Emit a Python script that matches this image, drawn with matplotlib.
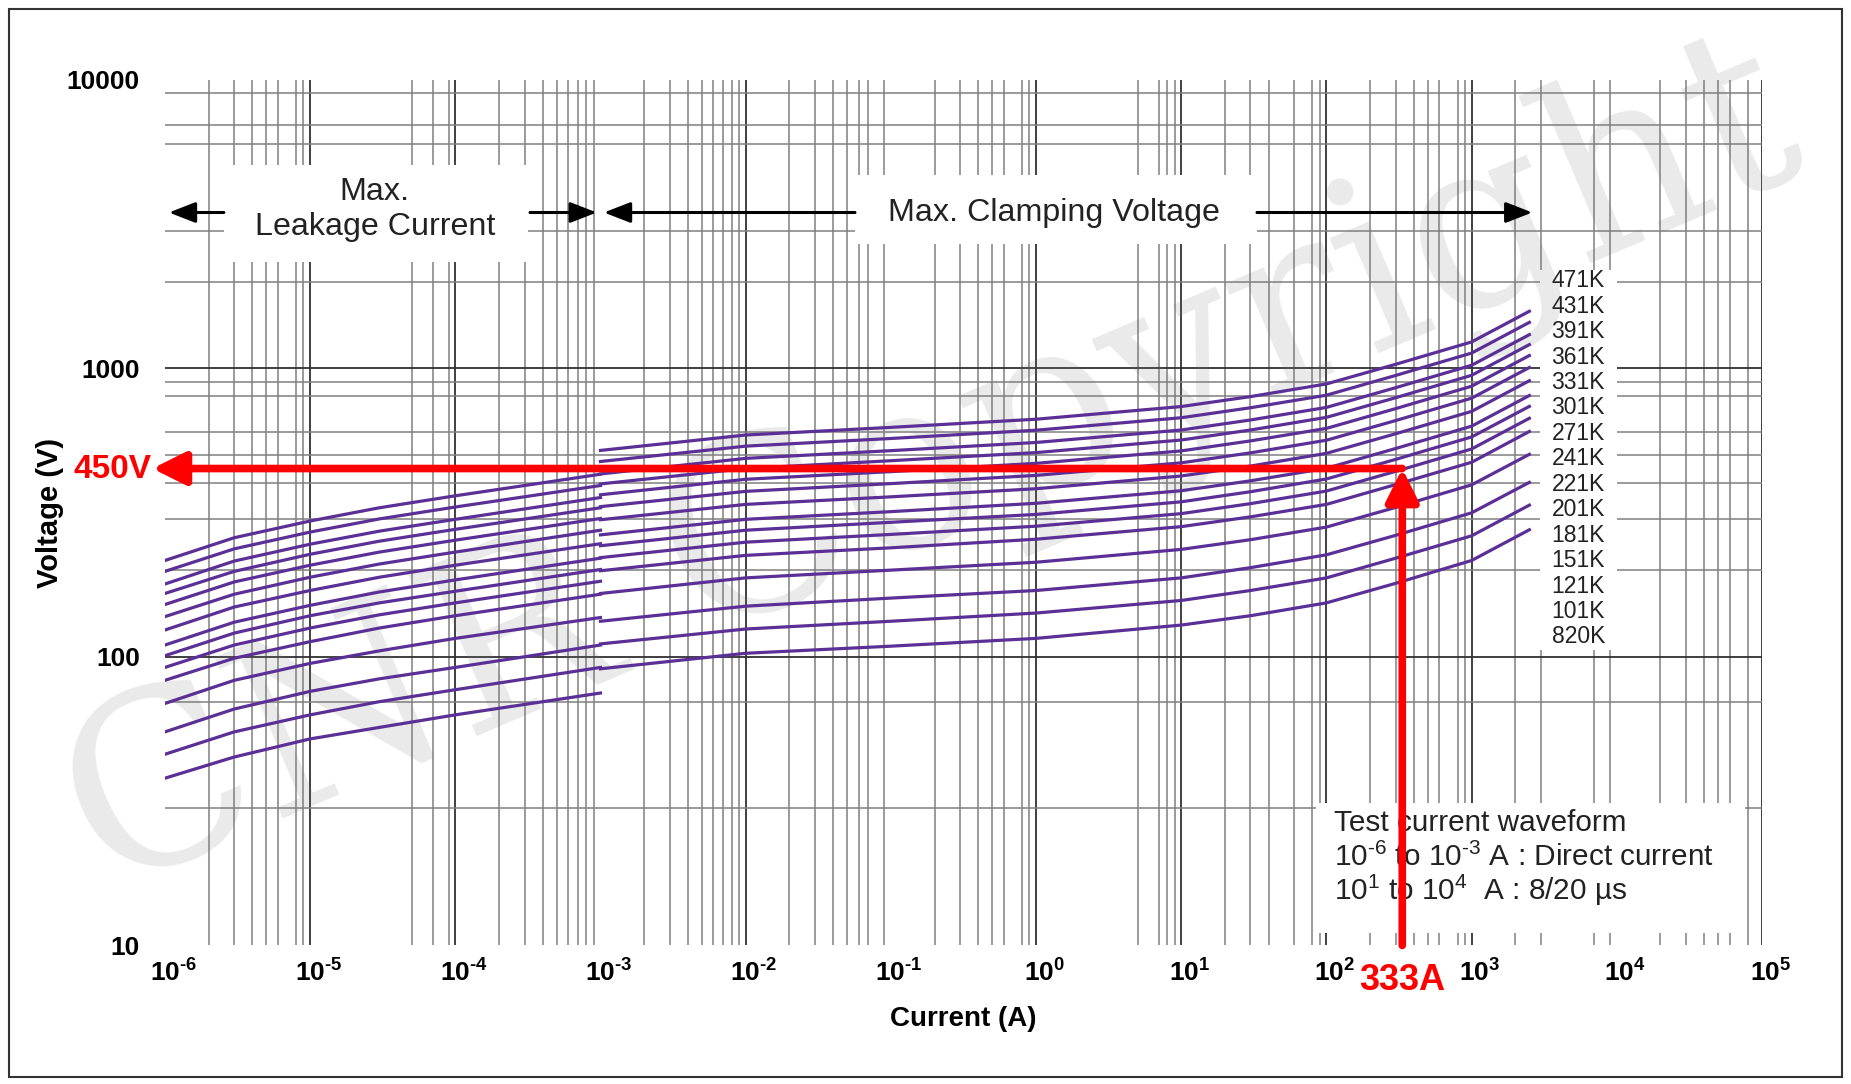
import matplotlib.pyplot as plt
import matplotlib.transforms as mtransforms
from matplotlib.patches import Rectangle

plt.rcParams['font.family'] = ['Liberation Sans', 'DejaVu Sans']
plt.rcParams['mathtext.default'] = 'regular'

# varistor ratings, top curve first
RATINGS = ['471K', '431K', '391K', '361K', '331K', '301K', '271K', '241K',
           '221K', '201K', '181K', '151K', '121K', '101K', '820K']

# leakage region (DC), current in A
LEAK_I = [1e-6, 3e-6, 1e-5, 3e-5, 1e-4, 1e-3]
LEAK_V = [
    [216, 259, 296, 329, 362, 430],
    [198, 237, 271, 301, 331, 393],
    [179, 215, 246, 273, 300, 357],
    [166, 198, 227, 252, 277, 329],
    [152, 182, 208, 231, 254, 302],
    [138, 165, 189, 210, 231, 275],
    [124, 149, 170, 189, 208, 247],
    [110, 132, 151, 168, 185, 220],
    [101, 121, 139, 154, 169, 201],
    [92, 110, 126, 140, 154, 183],
    [83, 99, 113, 126, 139, 165],
    [69, 83, 95, 105, 116, 137],
    [55, 66, 76, 84, 92, 110],
    [46, 55, 63, 70, 77, 92],
    [38, 45, 52, 57, 63, 75],
]

# clamping region (8/20 us), current in A
CLAMP_I = [1e-3, 1e-2, 1e-1, 1, 10, 30, 100, 300, 1000, 2500]
CLAMP_V = [
    [520, 588, 625, 667, 738, 799, 884, 1034, 1236, 1579],
    [476, 538, 572, 611, 675, 731, 808, 946, 1131, 1445],
    [431, 488, 519, 554, 612, 663, 733, 858, 1026, 1310],
    [398, 450, 479, 511, 565, 612, 677, 792, 947, 1210],
    [365, 413, 439, 469, 518, 561, 620, 726, 868, 1109],
    [332, 375, 399, 426, 471, 510, 564, 660, 789, 1008],
    [299, 338, 359, 383, 424, 459, 508, 594, 710, 907],
    [265, 300, 319, 341, 377, 408, 451, 528, 631, 806],
    [243, 275, 293, 312, 345, 374, 414, 484, 579, 739],
    [221, 250, 266, 284, 314, 340, 376, 440, 526, 672],
    [199, 225, 239, 256, 283, 306, 338, 396, 473, 605],
    [166, 188, 200, 213, 236, 255, 282, 330, 395, 504],
    [133, 150, 160, 170, 188, 204, 226, 264, 316, 403],
    [111, 125, 133, 142, 157, 170, 188, 220, 263, 336],
    [91, 103, 109, 116, 129, 139, 154, 180, 216, 276],
]

POINT_I = 333
POINT_V = 450

# the scanned grid is irregular: minor lines drawn per decade, and a few decade lines are missing
X_GRID_SUBS = {-6: [2, 3, 4, 5, 6, 8, 9], -5: [5, 7, 9], -4: [2, 3, 4, 5, 6, 7, 8, 9],
               -3: [2, 3, 4, 5, 6, 7, 8, 9], -2: [2, 3, 4, 5, 6, 7, 9],
               -1: [2, 3, 4, 5, 6, 8, 9], 0: [5, 7, 8, 9], 1: [2, 3, 4, 6, 8, 9],
               2: [2, 3, 4, 5, 6, 8, 9], 3: [2, 3, 7, 9], 4: [2, 3, 4, 5, 6, 8]}
X_GRID_MAJOR = [-5, -4, -2, 0, 1, 2, 3, 5]
Y_MINOR = [30, 70, 200, 300, 400, 500, 600, 800, 900, 2000, 3000, 6000, 7000, 9000]
Y_MAJOR = [100, 1000]

CURVE_COLOR = '#5b3096'
RED = '#ff0000'
HY = '\u2010'  # short hyphen used in the exponents

fig = plt.figure(figsize=(18.51, 10.84), dpi=100)
ax = fig.add_axes([0.0891, 0.1278, 0.8628, 0.7984])
ax.set_xscale('log')
ax.set_yscale('log')
ax.set_xlim(1e-6, 1e5)
ax.set_ylim(10, 1e4)
for s in ax.spines.values():
    s.set_visible(False)

# grid
for e, subs in X_GRID_SUBS.items():
    for s in subs:
        ax.axvline(s * 10.0 ** e, color='#808080', lw=1.1, zorder=1)
for e in X_GRID_MAJOR:
    ax.axvline(10.0 ** e, color='#303030', lw=1.3, zorder=1)
for y in Y_MINOR:
    ax.axhline(y, color='#808080', lw=1.1, zorder=1)
for y in Y_MAJOR:
    ax.axhline(y, color='#303030', lw=1.3, zorder=1)

ax.tick_params(length=0)
ax.set_xticks([10.0 ** k for k in range(-6, 6)])
ax.set_xticklabels([('$10^{%d}$' % k).replace('-', HY) for k in range(-6, 6)],
                   fontsize=19, fontweight='bold')
ax.tick_params(axis='x', pad=10)
shift = mtransforms.ScaledTranslation(6 / 72, 0, fig.dpi_scale_trans)
for lab in ax.get_xticklabels():
    lab.set_transform(lab.get_transform() + shift)
ax.set_yticks([10, 100, 1000, 10000])
ax.set_yticklabels(['10', '100', '1000', '10000'], fontsize=19, fontweight='bold')
ax.tick_params(axis='y', pad=18)
ax.minorticks_off()
ax.set_xlabel('Current (A)', fontsize=20, fontweight='bold', labelpad=14)
ax.set_ylabel('Voltage (V)', fontsize=21, fontweight='bold', labelpad=2)

# white patches that interrupt the grid behind the annotations
for rect in [(0.861, 0.341, 0.048, 0.439), (0.0369, 0.7897, 0.1904, 0.1121),
             (0.4321, 0.81, 0.2518, 0.08), (0.7207, 0.0144, 0.2687, 0.1502)]:
    ax.add_patch(Rectangle(rect[:2], rect[2], rect[3], transform=ax.transAxes,
                           fc='white', ec='none', zorder=2))

# watermark, under the curves
ax.text(0.504, 0.564, 'CNR Copyright', transform=fig.transFigure, fontsize=172,
        family='DejaVu Serif', color='#7a7a7a', alpha=0.16, rotation=23,
        ha='center', va='center', zorder=2.5, clip_on=False)

# curves
for lv, cv in zip(LEAK_V, CLAMP_V):
    ax.plot(LEAK_I, lv, color=CURVE_COLOR, lw=2.3, zorder=3)
    ax.plot(CLAMP_I, cv, color=CURVE_COLOR, lw=2.3, zorder=3)

# rating labels
for i, r in enumerate(RATINGS):
    ax.text(0.885, 0.768 - i * (0.768 - 0.3565) / 14, r, transform=ax.transAxes,
            fontsize=16.5, ha='center', va='center', color='#222222', zorder=5)

# region labels and arrows
ax.text(0.1315, 0.8504, 'Max.\nLeakage Current', transform=ax.transAxes,
        fontsize=23.2, ha='center', va='center', linespacing=1.2, color='#222222', zorder=5)
ax.text(0.5566, 0.8469, 'Max. Clamping Voltage', transform=ax.transAxes,
        fontsize=23.2, ha='center', va='center', color='#222222', zorder=5)
arrow_kw = dict(arrowstyle='-|>,head_length=0.9,head_width=0.35', color='black',
                lw=2.2, mutation_scale=18, shrinkA=0, shrinkB=0)
for x0, x1 in [(0.0369, 0.0025), (0.2286, 0.2704), (0.4321, 0.2749), (0.6838, 0.8562)]:
    ax.annotate('', xy=(x1, 0.8469), xytext=(x0, 0.8469), xycoords='axes fraction',
                arrowprops=arrow_kw, zorder=6)

box_lines = ['Test current waveform',
             ('10$^{-6}$ to 10$^{-3}$ A : Direct current').replace('-', HY),
             '10$^{1}$ to 10$^{4}$  A : 8/20 µs']
for i, t in enumerate(box_lines):
    ax.text(0.732, 0.1415 - i * 0.0392, t, transform=ax.transAxes, fontsize=21.4,
            ha='left', va='center', color='#222222', zorder=5)

# red operating point arrows
red_kw = dict(arrowstyle='-|>,head_length=0.9,head_width=0.45', color=RED,
              lw=5.5, mutation_scale=22, shrinkA=0, shrinkB=0)
ax.annotate('', xy=(POINT_I, POINT_V), xytext=(POINT_I, 10),
            arrowprops=red_kw, zorder=7, annotation_clip=False)
ax.annotate('', xy=(8.2e-7, POINT_V), xytext=(POINT_I, POINT_V),
            arrowprops=red_kw, zorder=7, annotation_clip=False)
ax.annotate('%dV' % POINT_V, xy=(8.2e-7, POINT_V), xytext=(-1, -1),
            textcoords='offset points', ha='right', va='center', fontsize=24,
            fontweight='bold', color=RED, annotation_clip=False, zorder=8)
ax.annotate('%dA' % POINT_I, xy=(POINT_I, 10), xytext=(0, -25),
            textcoords='offset points', ha='center', va='center', fontsize=26,
            fontweight='bold', color=RED, annotation_clip=False, zorder=8)

# outer frame
fig.patches.append(Rectangle((0.0049, 0.0065), 0.9903, 0.9852, transform=fig.transFigure,
                             fill=False, ec='#333333', lw=1.5))

fig.savefig('out.png', dpi=100)
